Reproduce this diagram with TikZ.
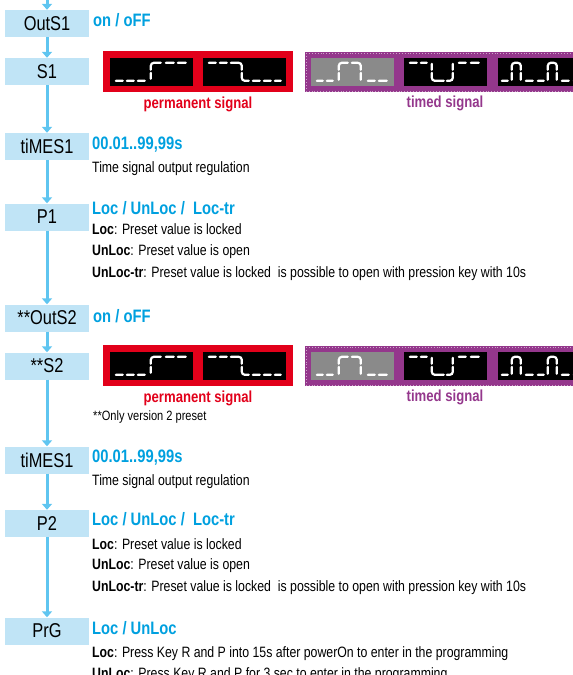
\documentclass[tikz,border=0pt]{standalone}
\usepackage{fontspec}
\setmainfont[FakeStretch=0.82]{Liberation Sans}
\usetikzlibrary{arrows.meta}
\definecolor{boxfill}{RGB}{192,228,246}
\definecolor{linecol}{RGB}{95,197,240}
\definecolor{headblue}{RGB}{0,160,223}
\definecolor{sigred}{RGB}{226,0,26}
\definecolor{sigpurple}{RGB}{148,55,140}
\definecolor{panelgray}{RGB}{138,138,138}
\tikzset{
  stepbox/.style={fill=boxfill, minimum width=84pt, minimum height=27pt, inner sep=0pt, font=\fontsize{20}{24}\selectfont},
  conn/.style={draw=linecol, line width=3pt, -{Triangle[width=10pt,length=6pt]}},
  head/.style={anchor=mid west, inner sep=0pt, text=headblue, font=\fontsize{18}{21}\selectfont\bfseries},
  body/.style={anchor=mid west, inner sep=0pt, font=\fontsize{15}{18}\selectfont},
  note/.style={anchor=mid west, inner sep=0pt, font=\fontsize{13.5}{16}\selectfont},
  siglabel/.style={inner sep=0pt, font=\fontsize{16}{19}\selectfont\bfseries},
  redframe/.style={fill=sigred, minimum width=190pt, minimum height=41pt, inner sep=0pt},
  purpleframe/.style={fill=sigpurple, minimum width=300pt, minimum height=40pt, inner sep=0pt, anchor=west},
  panel/.style={fill=black, minimum width=83pt, minimum height=28pt, inner sep=0pt},
  graypanel/.style={fill=panelgray, minimum width=83pt, minimum height=28pt, inner sep=0pt},
  seg/.style={draw=white, line width=2.2pt, line cap=round},
}
\newcommand\glyphRise{%
  \draw[seg] (6,23)--(13,23) (17,23)--(24,23) (28,23)--(35,23)
    (41,21)--(41,15) (41,12)--(41,8) to[out=90,in=180] (44,5) -- (51,5)
    (56,5)--(64,5) (68,5)--(76,5);}
\newcommand\glyphFall{%
  \draw[seg] (6,5)--(13,5) (17,5)--(24,5)
    (28,5)--(36,5) to[out=0,in=90] (39,8) -- (39,12)
    (39,15)--(39,20) to[out=-90,in=180] (42,23) -- (46,23)
    (50,23)--(57,23) (61,23)--(68,23) (72,23)--(78,23);}
\newcommand\glyphPulse{%
  \draw[seg] (6,23)--(12,23) (16,23)--(22,23)
    (28,22)--(28,15) (28,12)--(28,8) to[out=90,in=180] (31,5)--(37,5)
    (41,5)--(47,5) to[out=0,in=90] (50,8)--(50,12) (50,15)--(50,22)
    (57,23)--(64,23) (68,23)--(76,23);}
\newcommand\glyphDip{%
  \draw[seg] (6,5)--(13,5) (17,5)--(23,5)
    (28,6)--(28,12) (28,15)--(28,20) to[out=-90,in=180] (31,23)--(40,23)
    (43,23)--(46,23) to[out=0,in=-90] (49,20)--(49,15) (49,12)--(49,6)
    (55,5)--(62,5) (67,5)--(75,5);}
\newcommand\glyphDouble{%
  \draw[seg] (4,23)--(10,23)
    (14,22)--(14,15) (14,12)--(14,8) to[out=90,in=180] (17,5)--(20,5) to[out=0,in=90] (23,8)--(23,12) (23,15)--(23,22)
    (28,23)--(35,23) (40,23)--(46,23)
    (50,22)--(50,15) (50,12)--(50,8) to[out=90,in=180] (53,5)--(56,5) to[out=0,in=90] (59,8)--(59,12) (59,15)--(59,22)
    (64,23)--(71,23) (76,23)--(82,23);}
\newcommand\signalrow[2]{%
  \node[redframe] (red#1) at (198,#2-0.5) {};
  \node[panel] (pa#1) at (151.5,#2) {};
  \node[panel] (pb#1) at (244.5,#2) {};
  \node[purpleframe] (pur#1) at (305,#2) {};
  \draw[white, opacity=.55, dotted, line width=0.9pt] (306,#2-19) -- (600,#2-19) (306,#2-19) -- (306,#2+19) -- (600,#2+19);
  \node[graypanel] (ta#1) at (352.5,#2) {};
  \node[panel] (tb#1) at (445.5,#2) {};
  \node[panel] (tc#1) at (539.5,#2) {};
  \begin{scope}[shift={(pa#1.north west)}]\glyphRise\end{scope}
  \begin{scope}[shift={(pb#1.north west)}]\glyphFall\end{scope}
  \begin{scope}[shift={(ta#1.north west)}]\glyphPulse\end{scope}
  \begin{scope}[shift={(tb#1.north west)}]\glyphDip\end{scope}
  \begin{scope}[shift={(tc#1.north west)}]\glyphDouble\end{scope}
  \node[siglabel, text=sigred] (perm#1) at (198,#2+32) {permanent signal};
  \node[siglabel, text=sigpurple] (timed#1) at (445,#2+31) {timed signal};
}
\begin{document}
\begin{tikzpicture}[x=1pt,y=-1pt]
\useasboundingbox (0,0) rectangle (573,675);
% step boxes
\node[stepbox] (outs1) at (47,23.5) {OutS1};
\node[stepbox] (s1) at (47,71.5) {S1};
\node[stepbox] (times1) at (47,146.5) {tiMES1};
\node[stepbox] (p1) at (47,217) {P1};
\node[stepbox] (outs2) at (47,318) {**OutS2};
\node[stepbox] (s2) at (47,366) {**S2};
\node[stepbox] (times2) at (47,460) {tiMES1};
\node[stepbox] (p2) at (47,523.5) {P2};
\node[stepbox] (prg) at (47,631) {PrG};
% connectors
\coordinate (top) at (47,0);
\draw[conn] (top) -- (outs1.north);
\draw[conn] (outs1.south) -- (s1.north);
\draw[conn] (s1.south) -- (times1.north);
\draw[conn] (times1.south) -- (p1.north);
\draw[conn] (p1.south) -- (outs2.north);
\draw[conn] (outs2.south) -- (s2.north);
\draw[conn] (s2.south) -- (times2.north);
\draw[conn] (times2.south) -- (p2.north);
\draw[conn] (p2.south) -- (prg.north);
% texts
\node[head] (t1) at (93,24) {on / oFF};
\signalrow{1}{72}
\node[head] (t2) at (92,147) {00.01..99,99s};
\node[body] (t3) at (92,170) {Time signal output regulation};
\node[head] (t4) at (92,212) {Loc / UnLoc /\ \ Loc-tr};
\node[body] (t5) at (92,232) {\textbf{Loc}: Preset value is locked};
\node[body] (t6) at (92,253) {\textbf{UnLoc}: Preset value is open};
\node[body] (t7) at (92,275) {\textbf{UnLoc-tr}: Preset value is locked\ \ is possible to open with pression key with 10s};
\node[head] (t8) at (93,320) {on / oFF};
\signalrow{2}{366}
\node[note] (t9) at (93,418) {**Only version 2 preset};
\node[head] (t10) at (92,460) {00.01..99,99s};
\node[body] (t11) at (92,483) {Time signal output regulation};
\node[head] (t12) at (92,523) {Loc / UnLoc /\ \ Loc-tr};
\node[body] (t13) at (92,547) {\textbf{Loc}: Preset value is locked};
\node[body] (t14) at (92,567) {\textbf{UnLoc}: Preset value is open};
\node[body] (t15) at (92,589) {\textbf{UnLoc-tr}: Preset value is locked\ \ is possible to open with pression key with 10s};
\node[head] (t16) at (92,632) {Loc / UnLoc};
\node[body] (t17) at (92,655) {\textbf{Loc}: Press Key R and P into 15s after powerOn to enter in the programming};
\node[body] (t18) at (92,676) {\textbf{UnLoc}: Press Key R and P for 3 sec to enter in the programming};
\end{tikzpicture}
\end{document}
